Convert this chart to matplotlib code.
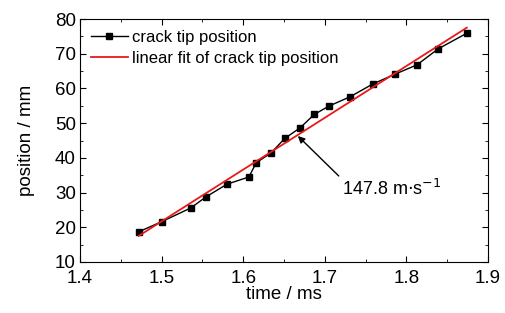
import numpy as np
import matplotlib.pyplot as plt
from matplotlib.ticker import MultipleLocator

plt.rcParams['font.family'] = ['Liberation Sans', 'DejaVu Sans']

# crack tip position
time_ms = [1.472, 1.500, 1.536, 1.554, 1.580, 1.607, 1.616, 1.634, 1.651, 1.670,
           1.687, 1.705, 1.731, 1.759, 1.786, 1.813, 1.839, 1.874]
pos_mm = [18.7, 21.6, 25.6, 28.7, 32.4, 34.5, 38.6, 41.4, 45.6, 48.7,
          52.5, 54.9, 57.6, 61.3, 64.1, 66.8, 71.4, 75.9]

fit = np.polyfit(time_ms, pos_mm, 1)
t_fit = np.array([min(time_ms), max(time_ms)])

fig = plt.figure(figsize=(5.06, 3.13), dpi=100)
ax = fig.add_axes([80/506, 1-262/313, 408/506, 243/313])

ax.plot(time_ms, pos_mm, '-ks', ms=5, lw=1, label='crack tip position')
ax.plot(t_fit, np.polyval(fit, t_fit), '-', color='#e8191b', lw=1.3,
        label='linear fit of crack tip position')

ax.annotate('147.8 m$\\cdot$s$^{-1}$', xy=(1.667, 46.3), xytext=(1.7205, 34.0),
            fontsize=13, ha='left', va='top',
            arrowprops=dict(arrowstyle='-|>', color='k', lw=1, shrinkA=0, shrinkB=0,
                            mutation_scale=10, relpos=(0.0, 1.0)))

ax.set_xlim(1.4, 1.9)
ax.set_ylim(10, 80)
ax.xaxis.set_major_locator(MultipleLocator(0.1))
ax.xaxis.set_minor_locator(MultipleLocator(0.05))
ax.yaxis.set_major_locator(MultipleLocator(10))
ax.yaxis.set_minor_locator(MultipleLocator(5))
ax.tick_params(which='both', direction='in', top=True, right=True, labelsize=13.5)
ax.tick_params(which='major', length=4)
ax.tick_params(which='minor', length=2.5)
ax.tick_params(axis='x', which='major', pad=6)
ax.tick_params(axis='y', which='major', pad=3)
ax.set_xlabel('time / ms', fontsize=13.5, labelpad=-1)
ax.set_ylabel('position / mm', fontsize=13.5, labelpad=14)

ax.legend(loc='upper left', frameon=False, fontsize=12, handlelength=2.2,
          borderaxespad=0.25, handletextpad=0.25, labelspacing=0.35)

fig.savefig('out.png', dpi=100)
